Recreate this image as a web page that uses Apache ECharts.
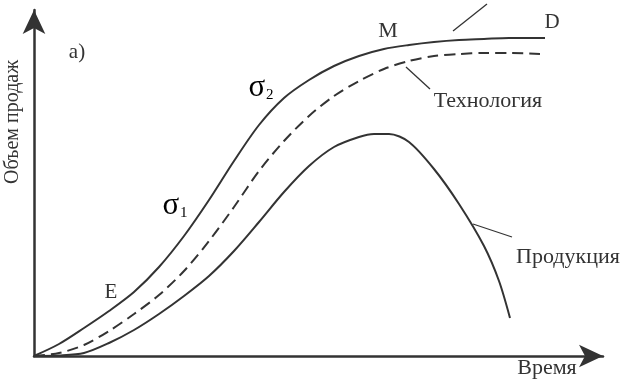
<!DOCTYPE html>
<html>
<head>
<meta charset="utf-8">
<script src="https://cdn.jsdelivr.net/npm/echarts@6/dist/echarts.min.js"></script>
<style>
html,body{margin:0;padding:0;background:#fff;}
#chart{width:625px;height:388px;}
</style>
</head>
<body>
<div id="chart"></div>
<script>
// Curves (arbitrary units: time, sales volume)
var marketX  = [0, 25, 50, 75, 100, 125, 150, 175, 200, 225, 250, 275, 300, 325, 350, 375, 400, 425, 450, 475, 511];
var marketY  = [0, 12, 28, 45, 64, 89, 120, 156, 195, 231, 258, 276, 290, 300, 307, 311, 314, 316, 317, 318, 318];
var techX    = [0, 25, 50, 75, 100, 125, 150, 175, 200, 225, 250, 275, 300, 325, 350, 375, 400, 425, 450, 475, 506];
var techY    = [0, 3, 11, 25, 42, 61, 85, 115, 149, 185, 215, 240, 260, 275, 287, 295, 300, 302, 303, 303, 302];
var productX = [0, 25, 50, 75, 100, 125, 150, 175, 200, 225, 250, 275, 300, 325, 340, 355, 375, 400, 425, 450, 465, 476];
var productY = [0, 0.5, 3, 13, 26, 42, 60, 80, 105, 134, 164, 190, 209, 219, 222, 222, 214, 187, 152, 110, 75, 38];

var xMax = 569, yMax = 346;
var ink = '#333';
var serif = '"Liberation Serif","DejaVu Serif",serif';

function pairs(xs, ys){ return xs.map(function(x,i){ return [x, ys[i]]; }); }

var chart = echarts.init(document.getElementById('chart'), null, {renderer:'canvas'});
chart.setOption({
  backgroundColor:'#ffffff',
  animation:false,
  grid:{left:34, right:22, top:10, bottom:32},
  xAxis:{type:'value', min:0, max:xMax,
    axisLine:{show:true, lineStyle:{color:ink, width:2.5}, symbol:['none','arrow'], symbolSize:[17,24], symbolOffset:[0,0]},
    axisTick:{show:false}, axisLabel:{show:false}, splitLine:{show:false}},
  yAxis:{type:'value', min:0, max:yMax,
    axisLine:{show:true, onZero:false, lineStyle:{color:ink, width:2.5}, symbol:['none','arrow'], symbolSize:[17,24], symbolOffset:[0,0]},
    axisTick:{show:false}, axisLabel:{show:false}, splitLine:{show:false}},
  series:[
    {name:'Рынок', type:'line', data:pairs(marketX, marketY), smooth:0.3, showSymbol:false,
      lineStyle:{color:ink, width:2}},
    {name:'Технология', type:'line', data:pairs(techX, techY), smooth:0.3, showSymbol:false,
      lineStyle:{color:ink, width:2, type:[11,6]}},
    {name:'Продукция', type:'line', data:pairs(productX, productY), smooth:0.3, showSymbol:false,
      lineStyle:{color:ink, width:2}}
  ]
});

// annotations in data coordinates
var texts = [
  {t:'а)', at:[43,304], size:21},
  {t:'E', at:[77,64], size:21},
  {t:'M', at:[354,325], size:22},
  {t:'D', at:[518,334], size:21},
  {t:'Технология', at:[454,255], size:22},
  {t:'Продукция', at:[534,99], size:22},
  {t:'Время', at:[513,-12], size:22}
];
var sigmas = [
  {sub:'1', at:[141,150]},
  {sub:'2', at:[227,268]}
];
var leaders = [
  [[419,325],[453,352]],
  [[372,289],[396,267]],
  [[439,132],[478,119]]
];
var g = [];
texts.forEach(function(o){
  var p = chart.convertToPixel({gridIndex:0}, o.at);
  g.push({type:'text', x:p[0], y:p[1], style:{text:o.t, fill:ink, font:o.size+'px '+serif, align:'center', verticalAlign:'middle'}});
});
sigmas.forEach(function(o){
  var p = chart.convertToPixel({gridIndex:0}, o.at);
  g.push({type:'text', x:p[0], y:p[1], style:{
    text:'{s|σ}{b|'+o.sub+'}', align:'center', verticalAlign:'middle',
    rich:{s:{fontFamily:serif, fontSize:31, color:ink}, b:{fontFamily:serif, fontSize:15, color:ink, padding:[14,0,0,1]}}
  }});
});
leaders.forEach(function(l){
  var a = chart.convertToPixel({gridIndex:0}, l[0]);
  var b = chart.convertToPixel({gridIndex:0}, l[1]);
  g.push({type:'line', shape:{x1:a[0], y1:a[1], x2:b[0], y2:b[1]}, style:{stroke:ink, lineWidth:1.3}});
});
var yl = chart.convertToPixel({gridIndex:0}, [-21,234]);
g.push({type:'text', x:yl[0], y:yl[1], rotation:Math.PI/2, style:{text:'Объем продаж', fill:ink, font:'20px '+serif, align:'center', verticalAlign:'middle'}});
chart.setOption({graphic:g});
</script>
</body>
</html>
